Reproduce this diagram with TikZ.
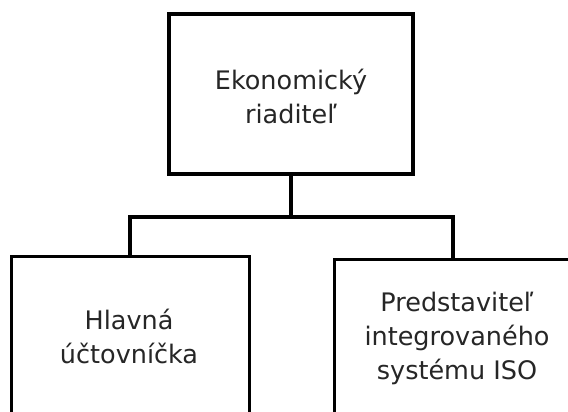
\documentclass[tikz,border=0pt]{standalone}
\usepackage{fontspec}
\setmainfont{DejaVu Sans}
\begin{document}
\begin{tikzpicture}[x=1pt,y=-1pt,
  box/.style={draw=black,line width=3.4pt,fill=white,inner sep=0pt,minimum width=#1},
  label/.style={align=center,text=black!85,font=\fontsize{25.5}{34}\selectfont},
  link/.style={draw=black,line width=3.4pt}]
  \useasboundingbox (0,0) rectangle (568,412);
  \clip (0,0) rectangle (568,412);
  % boxes
  \node[box=244pt,minimum height=160pt] (boss) at (291,94) {};
  \node[box=238pt,minimum height=200pt,anchor=north west] (acc) at (10,255) {};
  \node[box=240pt,minimum height=200pt,anchor=north west] (iso) at (333,258) {};
  % texts
  \node[label] (bosst) at (291,96) {Ekonomický\\riaditeľ};
  \node[label] (acct) at (129,336) {Hlavná\\účtovníčka};
  \node[label] (isot) at (457,338) {Predstaviteľ\\integrovaného\\systému ISO};
  % connectors
  \coordinate (bar) at (291,217);
  \draw[link] (boss.south) -- (bar);
  \draw[link] (acc.north -| 130,0) |- (bar) -| (iso.north -| 453,0);
\end{tikzpicture}
\end{document}
